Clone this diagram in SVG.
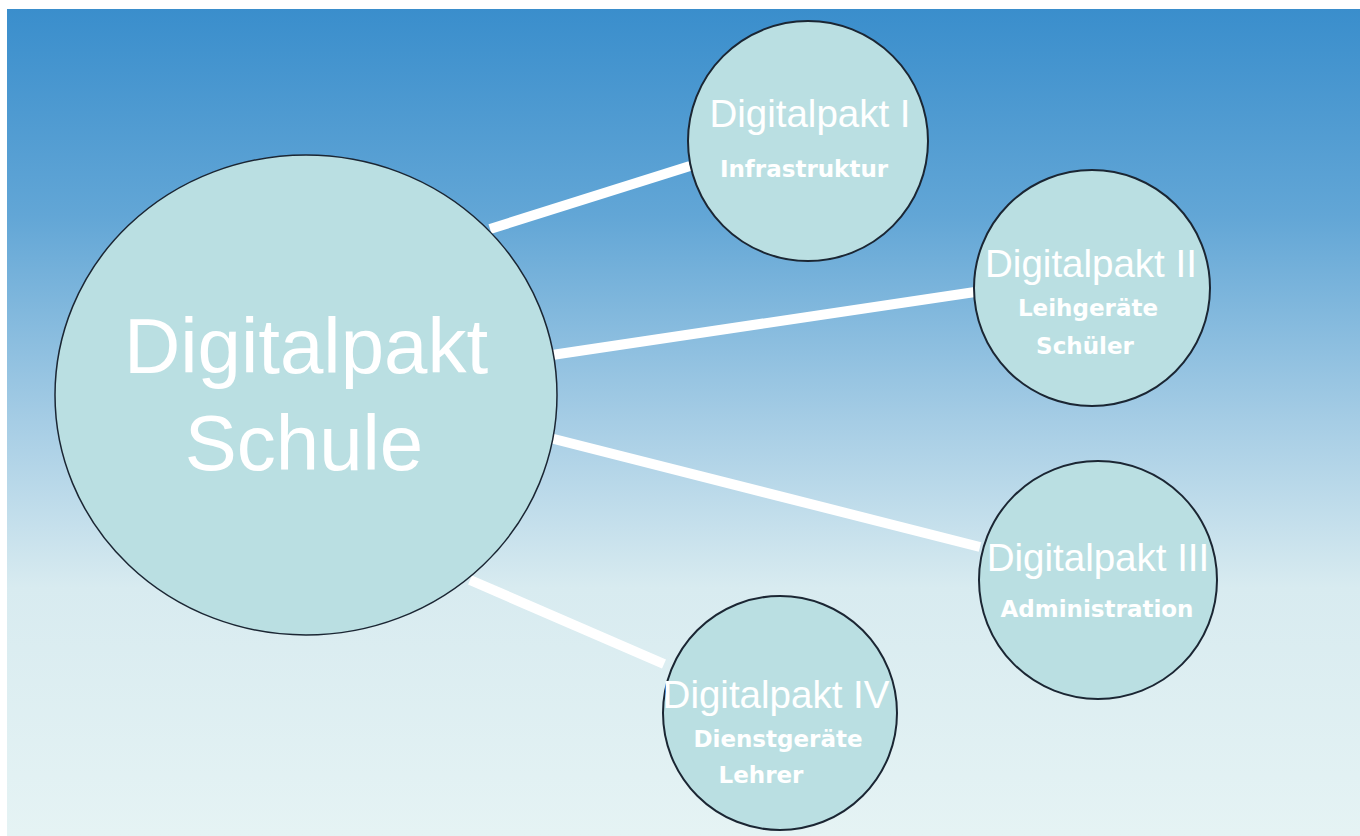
<svg xmlns="http://www.w3.org/2000/svg" width="1360" height="836" viewBox="0 0 1360 836">
<defs>
<linearGradient id="bg" x1="0" y1="0" x2="0" y2="1">
<stop offset="0" stop-color="#3a8ecc"/>
<stop offset="0.25" stop-color="#62a6d6"/>
<stop offset="0.5" stop-color="#a6cde5"/>
<stop offset="0.7" stop-color="#d8ebf0"/>
<stop offset="1" stop-color="#e5f3f4"/>
</linearGradient>
<style>
.node{fill:#badfe2;stroke:#1b2633;stroke-width:2}
.big{stroke-width:1.5}
.con{stroke:#ffffff;stroke-width:10;fill:none}
.t1{font-family:"Liberation Sans",Arial,sans-serif;fill:#ffffff;text-anchor:middle}
.t2{font-family:"DejaVu Sans",Verdana,sans-serif;font-weight:bold;fill:#ffffff;text-anchor:middle;font-size:23px}
</style>
</defs>
<rect x="0" y="0" width="1360" height="836" fill="#ffffff"/>
<rect x="7" y="9" width="1353" height="827" fill="url(#bg)"/>
<g id="connectors">
<line class="con" x1="490" y1="229" x2="690" y2="166"/>
<line class="con" x1="552" y1="355" x2="975" y2="292"/>
<line class="con" x1="550" y1="438" x2="980" y2="547"/>
<line class="con" x1="470" y1="580" x2="664" y2="664"/>
</g>
<g id="node-main">
<ellipse class="node big" cx="306" cy="395" rx="251" ry="240"/>
<text class="t1" x="306" y="373" font-size="78">Digitalpakt</text>
<text class="t1" x="304" y="470" font-size="78">Schule</text>
</g>
<g id="node-1">
<circle class="node" cx="808" cy="141" r="120"/>
<text class="t1" x="810" y="127" font-size="38.5">Digitalpakt I</text>
<text class="t2" x="804" y="177">Infrastruktur</text>
</g>
<g id="node-2">
<circle class="node" cx="1092" cy="288" r="118"/>
<text class="t1" x="1091" y="277" font-size="38.5">Digitalpakt II</text>
<text class="t2" x="1088" y="316">Leihgeräte</text>
<text class="t2" x="1085" y="354">Schüler</text>
</g>
<g id="node-3">
<circle class="node" cx="1098" cy="580" r="119"/>
<text class="t1" x="1098" y="571" font-size="38.5">Digitalpakt III</text>
<text class="t2" x="1097" y="617">Administration</text>
</g>
<g id="node-4">
<circle class="node" cx="780" cy="713" r="117"/>
<text class="t1" x="776" y="708" font-size="38.5">Digitalpakt IV</text>
<text class="t2" x="778" y="747">Dienstgeräte</text>
<text class="t2" x="761" y="783">Lehrer</text>
</g>
</svg>
